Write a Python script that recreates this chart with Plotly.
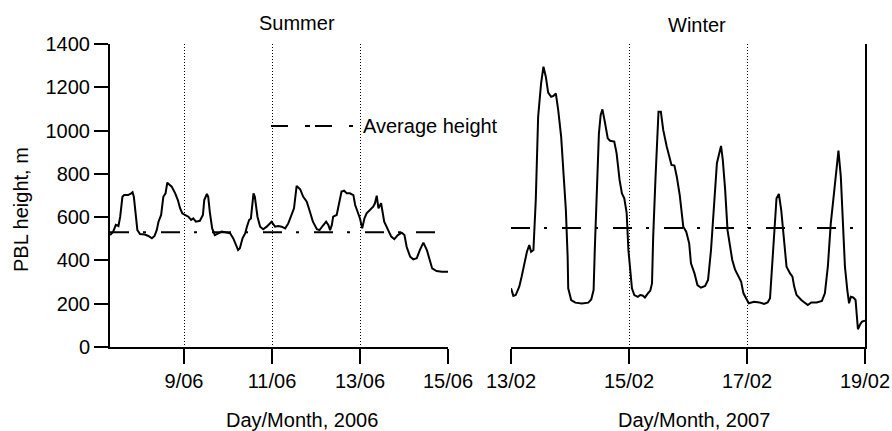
import plotly.graph_objects as go

W, H = 892, 431

# ---------------- data ----------------
summer_day = [7.32, 7.39, 7.45, 7.51, 7.55, 7.60, 7.64, 7.73, 7.80, 7.83,
              7.86, 7.91, 7.94, 8.00, 8.11, 8.19, 8.27, 8.33, 8.38, 8.42,
              8.48, 8.53, 8.58, 8.62, 8.66, 8.72, 8.80, 8.86, 8.91, 8.96,
              9.02, 9.10, 9.16, 9.21, 9.27, 9.36, 9.43, 9.46, 9.52, 9.55,
              9.59, 9.64, 9.70, 9.78, 9.86, 10.05, 10.12, 10.23, 10.27, 10.33,
              10.39, 10.43, 10.48, 10.52, 10.58, 10.61, 10.67, 10.73, 10.80, 10.88,
              10.99, 11.07, 11.14, 11.22, 11.30, 11.37, 11.45, 11.50, 11.56, 11.64,
              11.71, 11.79, 11.85, 11.93, 12.02, 12.08, 12.15, 12.23, 12.28, 12.32,
              12.36, 12.39, 12.47, 12.52, 12.58, 12.64, 12.70, 12.77, 12.85, 12.89,
              12.95, 13.00, 13.05, 13.10, 13.15, 13.23, 13.30, 13.34, 13.38, 13.42,
              13.48, 13.55, 13.63, 13.71, 13.78, 13.86, 13.95, 14.01, 14.06, 14.14,
              14.21, 14.29, 14.36, 14.44, 14.52, 14.58, 14.64, 14.74, 14.86, 15.00]
summer_pbl = [517, 533, 564, 559, 602, 694, 702, 702, 710, 715,
              694, 602, 540, 522, 520, 513, 502, 513, 540, 579,
              610, 694, 710, 759, 750, 741, 710, 679, 641, 618,
              610, 602, 587, 594, 579, 583, 610, 679, 707, 694,
              618, 548, 517, 526, 533, 525, 502, 448, 456, 502,
              525, 556, 587, 594, 710, 694, 602, 556, 544, 556,
              579, 556, 559, 556, 548, 571, 618, 641, 744, 729,
              694, 671, 633, 579, 544, 540, 559, 579, 564, 540,
              564, 602, 610, 664, 718, 722, 710, 710, 702, 656,
              618, 594, 548, 594, 618, 633, 648, 664, 699, 641,
              664, 579, 548, 510, 498, 517, 528, 517, 463, 417,
              405, 410, 448, 482, 448, 402, 363, 351, 348, 348]

winter_day = [13.00, 13.04, 13.08, 13.14, 13.18, 13.23, 13.27, 13.31, 13.34, 13.38,
              13.42, 13.46, 13.51, 13.55, 13.59, 13.63, 13.68, 13.72, 13.76, 13.80,
              13.85, 13.89, 13.93, 13.96, 13.97, 14.02, 14.09, 14.20, 14.31, 14.36,
              14.40, 14.42, 14.46, 14.49, 14.52, 14.55, 14.59, 14.64, 14.68, 14.75,
              14.79, 14.84, 14.88, 14.92, 14.96, 14.99, 15.05, 15.09, 15.15, 15.19,
              15.23, 15.27, 15.32, 15.36, 15.39, 15.41, 15.45, 15.50, 15.54, 15.58,
              15.64, 15.70, 15.72, 15.77, 15.81, 15.86, 15.92, 15.97, 16.02, 16.05,
              16.11, 16.16, 16.22, 16.29, 16.34, 16.39, 16.45, 16.49, 16.53, 16.56,
              16.59, 16.63, 16.67, 16.71, 16.75, 16.80, 16.85, 16.90, 16.94, 17.00,
              17.03, 17.12, 17.21, 17.29, 17.35, 17.39, 17.43, 17.48, 17.50, 17.54,
              17.58, 17.62, 17.67, 17.73, 17.77, 17.80, 17.84, 17.92, 17.98, 18.03,
              18.09, 18.18, 18.27, 18.32, 18.37, 18.42, 18.48, 18.53, 18.55, 18.59,
              18.62, 18.66, 18.70, 18.73, 18.76, 18.80, 18.84, 18.88, 18.92, 18.95,
              19.00]
winter_pbl = [271, 236, 240, 279, 325, 394, 440, 471, 440, 448,
              679, 1064, 1218, 1295, 1249, 1175, 1156, 1160, 1172, 1095,
              972, 802, 633, 417, 271, 217, 205, 201, 205, 220,
              263, 448, 756, 987, 1072, 1098, 1041, 964, 953, 949,
              895, 772, 710, 687, 620, 448, 271, 240, 232, 240,
              238, 229, 248, 260, 294, 510, 787, 1087, 1087, 1003,
              925, 856, 841, 838, 787, 702, 556, 533, 479, 387,
              340, 286, 274, 282, 310, 448, 679, 849, 895, 929,
              864, 725, 540, 471, 402, 356, 325, 302, 248, 217,
              202, 209, 206, 199, 206, 225, 417, 602, 687, 707,
              633, 510, 371, 340, 325, 279, 240, 217, 202, 194,
              206, 206, 213, 248, 371, 571, 725, 849, 907, 787,
              571, 371, 263, 202, 232, 229, 217, 82, 106, 117,
              122]

summer_range = [7.318, 15.0]
winter_range = [13.0, 19.0]
summer_avg = 530
winter_avg = 550

summer_ticks = [9, 11, 13, 15]
summer_ticktext = ["9/06", "11/06", "13/06", "15/06"]
winter_ticks = [13, 15, 17, 19]
winter_ticktext = ["13/02", "15/02", "17/02", "19/02"]
y_ticks = [0, 200, 400, 600, 800, 1000, 1200, 1400]

assert len(summer_day) == len(summer_pbl)
assert len(winter_day) == len(winter_pbl)

FONT = "Liberation Sans, Arial, sans-serif"
AVG_DASH = "19px,14px,3px,15px"

fig = go.Figure()
fig.add_trace(go.Scatter(x=summer_day, y=summer_pbl, mode="lines",
                         line=dict(color="black", width=2), xaxis="x", yaxis="y",
                         showlegend=False))
fig.add_trace(go.Scatter(x=summer_range, y=[summer_avg, summer_avg], mode="lines",
                         line=dict(color="black", width=2, dash=AVG_DASH),
                         xaxis="x", yaxis="y", showlegend=False))
fig.add_trace(go.Scatter(x=winter_day, y=winter_pbl, mode="lines",
                         line=dict(color="black", width=2), xaxis="x2", yaxis="y2",
                         showlegend=False))
fig.add_trace(go.Scatter(x=winter_range, y=[winter_avg, winter_avg], mode="lines",
                         line=dict(color="black", width=2, dash=AVG_DASH),
                         xaxis="x2", yaxis="y2", showlegend=False))

def px_x(p):
    return p / W

def px_y(p):
    return 1 - p / H

y_dom = [px_y(347), px_y(44)]

common_x = dict(showline=True, linecolor="black", linewidth=2, ticks="outside",
                ticklen=15, tickwidth=2, tickcolor="black", showgrid=True,
                gridcolor="black", gridwidth=1, griddash="1px,2px", zeroline=False,
                automargin=False,
                tickfont=dict(family=FONT, size=20, color="black"))

fig.update_layout(
    width=W, height=H,
    margin=dict(l=0, r=0, t=0, b=0, pad=0, autoexpand=False),
    paper_bgcolor="white", plot_bgcolor="white",
    font=dict(family=FONT, size=20, color="black"),
    showlegend=False,
    xaxis=dict(domain=[px_x(110), px_x(448)], range=summer_range, anchor="y",
               tickmode="array", tickvals=summer_ticks, ticktext=summer_ticktext,
               **common_x),
    xaxis2=dict(domain=[px_x(511), px_x(865)], range=winter_range, anchor="y2",
                tickmode="array", tickvals=winter_ticks, ticktext=winter_ticktext,
                **common_x),
    yaxis=dict(domain=y_dom, range=[0, 1400], anchor="x", tickmode="array",
               tickvals=y_ticks, showline=True, linecolor="black", linewidth=2,
               ticks="outside", ticklen=14, tickwidth=2, tickcolor="black",
               showgrid=False, zeroline=False, automargin=False,
               tickfont=dict(family=FONT, size=20, color="black")),
    yaxis2=dict(domain=y_dom, range=[0, 1400], anchor="x2", side="right",
                showline=True, linecolor="black", linewidth=2, ticks="",
                showticklabels=False, showgrid=False, zeroline=False,
                automargin=False),
)

ann = dict(xref="paper", yref="paper", showarrow=False,
           font=dict(family=FONT, size=20, color="black"))
fig.add_annotation(text="Summer", x=px_x(297), y=px_y(23), xanchor="center", yanchor="middle", **ann)
fig.add_annotation(text="Winter", x=px_x(697), y=px_y(25), xanchor="center", yanchor="middle", **ann)
fig.add_annotation(text="Day/Month, 2006", x=px_x(302), y=px_y(420), xanchor="center", yanchor="middle", **ann)
fig.add_annotation(text="Day/Month, 2007", x=px_x(694), y=px_y(420), xanchor="center", yanchor="middle", **ann)
fig.add_annotation(text="PBL height, m", x=px_x(21), y=px_y(210), textangle=-90,
                   xanchor="center", yanchor="middle", **ann)

# legend
fig.add_shape(type="line", xref="paper", yref="paper",
              x0=px_x(271), x1=px_x(353), y0=px_y(126), y1=px_y(126),
              line=dict(color="black", width=2, dash="17px,17px,5px,5px"))
fig.add_annotation(text="Average height", x=px_x(361), y=px_y(126),
                   xanchor="left", yanchor="middle", **ann)

fig.write_html("out.html", config={"displayModeBar": False},
               post_script="document.body.style.margin='0';document.body.style.overflow='hidden';")
